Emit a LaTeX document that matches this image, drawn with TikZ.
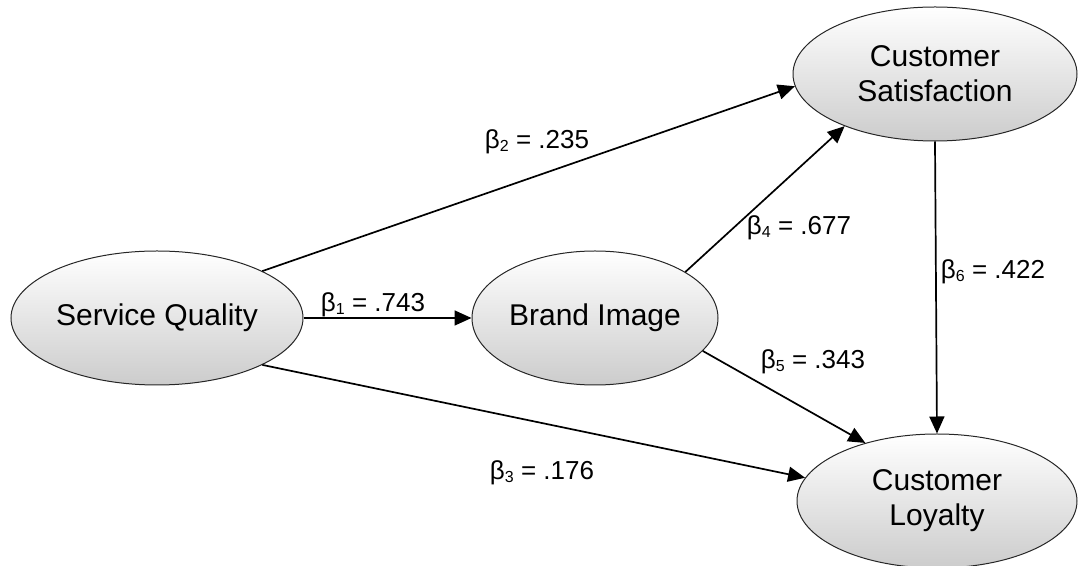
\documentclass[tikz,border=0pt]{standalone}
\usepackage{fontspec}
\setmainfont{Liberation Sans}
\usetikzlibrary{shapes.geometric,arrows.meta}
\newcommand\bsub[1]{β\raisebox{-0.2ex}{\fontsize{8}{8}\selectfont #1}}
\tikzset{
  construct/.style={ellipse, draw=black!85, line width=0.5pt, inner sep=0pt,
    top color=white, bottom color=black!20, align=center,
    font=\fontsize{15}{17.5}\selectfont, minimum height=67pt},
  path/.style={draw, line width=0.85pt, -{Triangle[length=8.5pt,width=7.5pt]}},
  coef/.style={font=\fontsize{13}{14}\selectfont, inner sep=0pt}
}
\begin{document}
\begin{tikzpicture}[x=0.5pt,y=-0.5pt]
\useasboundingbox (0,0) rectangle (1078,566);
\node[construct, minimum width=146pt] (sq) at (157,318) {Service Quality};
\node[construct, minimum width=123pt] (bi) at (595,318) {Brand Image};
\node[construct, minimum width=142pt] (cs) at (935,74) {Customer\\Satisfaction};
\node[construct, minimum width=140pt] (cl) at (937,501) {Customer\\Loyalty};
\draw[path] (sq.east) -- (bi.west);
\draw[path] (sq.24) -- (cs.185);
\draw[path] (sq.-24) -- (cl.170);
\draw[path] (bi.27) -- (cs.210);
\draw[path] (bi.-17) -- (cl.141);
\draw[path] (cs.south) -- (cl.north);
\node[coef] (b1) at (373,305) {\bsub{1} = .743};
\node[coef] (b2) at (537,142) {\bsub{2} = .235};
\node[coef] (b3) at (542,473) {\bsub{3} = .176};
\node[coef] (b4) at (799,228) {\bsub{4} = .677};
\node[coef] (b5) at (813,362) {\bsub{5} = .343};
\node[coef] (b6) at (993,272) {\bsub{6} = .422};
\end{tikzpicture}
\end{document}
